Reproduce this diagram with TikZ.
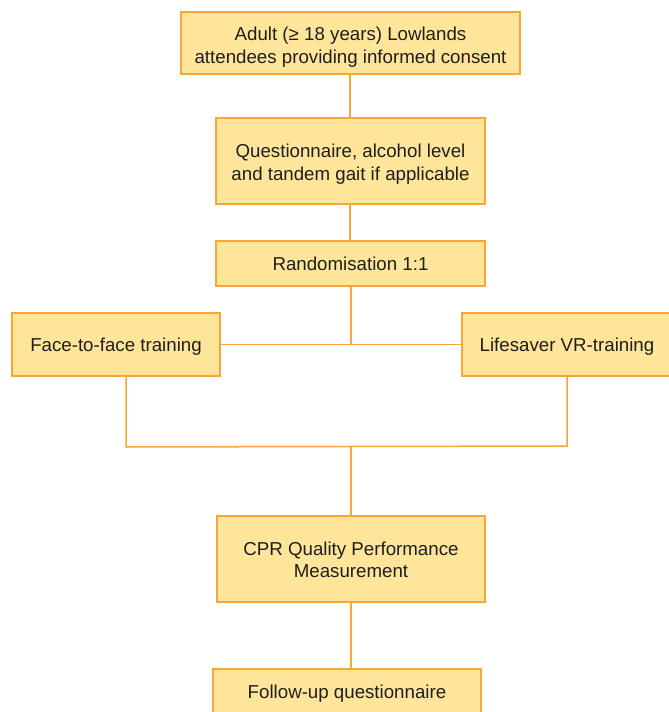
\documentclass[tikz,border=0pt]{standalone}
\usepackage{fontspec}
\setmainfont{Liberation Sans}
\definecolor{boxfill}{HTML}{FFE599}
\definecolor{boxline}{HTML}{F8A63A}
\definecolor{txt}{HTML}{1E1E1E}
\newcommand{\lowerby}[1]{\rule{0pt}{\dimexpr 13.6pt+2\dimexpr #1\relax\relax}}
\begin{document}
\begin{tikzpicture}[x=1pt,y=-1pt,
  flowbox/.style={draw=boxline,fill=boxfill,line width=1.5pt,inner sep=0pt,
    align=center,text=txt,font=\fontsize{18.7}{22.5}\selectfont},
  conn/.style={draw=boxline,line width=1.5pt}]
\useasboundingbox (0,0) rectangle (669,712);
\clip (0,0) rectangle (669,712);
\node[flowbox,minimum width=339pt,minimum height=62pt] (b1) at (350.5,43)
  {\lowerby{4pt}Adult (≥ 18 years) Lowlands\\attendees providing informed consent};
\node[flowbox,minimum width=269pt,minimum height=86pt] (b2) at (350.5,161)
  {\lowerby{3pt}Questionnaire, alcohol level\\and tandem gait if applicable};
\node[flowbox,minimum width=269pt,minimum height=45pt] (b3) at (350.5,263.5)
  {Randomisation 1:1};
\node[flowbox,minimum width=208pt,minimum height=63pt] (left) at (116,344.5)
  {\lowerby{2pt}Face-to-face training};
\node[flowbox,minimum width=210pt,minimum height=63pt] (right) at (567,344.5)
  {\lowerby{2pt}Lifesaver VR-training};
\node[flowbox,minimum width=268pt,minimum height=86pt] (cpr) at (351,559)
  {\lowerby{1pt}CPR Quality Performance\\Measurement};
\node[flowbox,minimum width=268pt,minimum height=46pt] (fu) at (347,692)
  {\lowerby{2pt}Follow-up questionnaire};
\coordinate (j1) at (351,344);
\coordinate (lb) at (126,447);
\coordinate (rb) at (567,446);
\coordinate (jb) at (351,446.5);
\draw[conn] (b1.south -| 350,0) -- (b2.north -| 350,0);
\draw[conn] (b2.south -| 350,0) -- (b3.north -| 350,0);
\draw[conn] (b3.south -| j1) -- (j1);
\draw[conn] (left.east) -- (right.west);
\draw[conn] (left.south -| lb) -- (lb) -- (rb) -- (right.south -| rb);
\draw[conn] (jb) -- (cpr.north -| jb);
\draw[conn] (cpr.south -| jb) -- (fu.north -| jb);
\end{tikzpicture}
\end{document}
